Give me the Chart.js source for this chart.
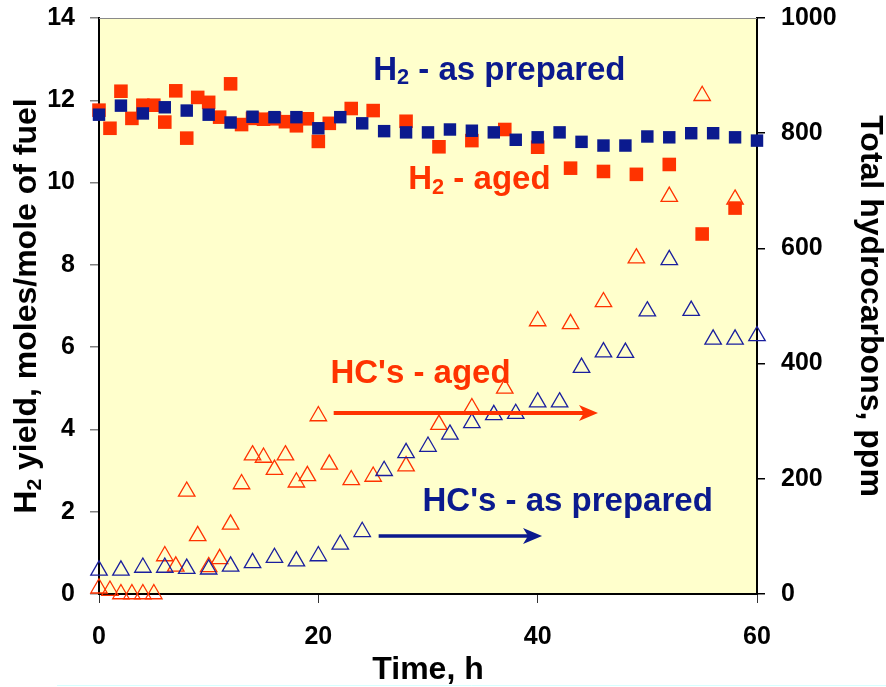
<!DOCTYPE html>
<html>
<head>
<meta charset="utf-8">
<title>H2 yield and total hydrocarbons vs time</title>
<script src="https://cdn.jsdelivr.net/npm/chart.js@4.4.1/dist/chart.umd.min.js"></script>
<style>
  html, body { margin: 0; padding: 0; background: #fff; }
  #wrap { width: 886px; height: 687px; }
</style>
</head>
<body>
<div id="wrap"><canvas id="chart" width="886" height="687"></canvas></div>
<script>
// Time points, h
const preparedTimes = [0, 2, 4, 6, 8, 10, 12, 14, 16, 18, 20, 22, 24, 26, 28, 30,
    32, 34, 36, 38, 40, 42, 44, 46, 48, 50, 52, 54, 56, 58, 60];
const agedTimes = [0, 1, 2, 3, 4, 5, 6, 7, 8, 9, 10, 11, 12, 13, 14, 15, 16, 17,
    18, 19, 20, 21, 23, 25, 28, 31, 34, 37, 40, 43, 46, 49, 52, 55, 58];

// H2 yield, moles/mole of fuel (left axis)
const h2Prepared = [11.65, 11.87, 11.68, 11.83, 11.75, 11.65, 11.46, 11.6, 11.59, 11.59,
    11.32, 11.59, 11.44, 11.25, 11.22, 11.22, 11.29, 11.26, 11.22, 11.04, 11.1, 11.22,
    10.99, 10.9, 10.9, 11.12, 11.1, 11.2, 11.2, 11.1, 11.02];
const h2Aged = [11.76, 11.32, 12.22, 11.56, 11.88, 11.88, 11.47, 12.23, 11.08, 12.07,
    11.95, 11.59, 12.4, 11.41, 11.56, 11.54, 11.55, 11.48, 11.38, 11.55, 11.0, 11.44,
    11.8, 11.75, 11.49, 10.87, 11.02, 11.29, 10.86, 10.35, 10.27, 10.2, 10.44, 8.75, 9.38];

// Total hydrocarbons, ppm (right axis)
const hcPrepared = [41, 41, 46, 46, 44, 43, 48, 54, 63, 57, 66, 86, 108, 214, 245, 256,
    277, 297, 311, 313, 333, 333, 393, 420, 419, 491, 580, 492, 442, 442, 448];
const hcAged = [10, 6, 0, 0, 0, 0, 66, 48, 178, 101, 47, 61, 121, 191, 241, 237, 216,
    241, 194, 205, 309, 225, 198, 204, 222, 294, 323, 357, 474, 469, 507, 583, 690, 865, 685];

// Axis ranges and tick steps
const timeRange = [0, 60, 20];
const yieldRange = [0, 14, 2];
const ppmRange = [0, 1000, 200];

const NAVY = '#0b1a8e';
const RED = '#ff3300';
const FONT = "'Liberation Sans', Arial, sans-serif";

function points(xs, ys) {
    return xs.map((x, i) => ({ x: x, y: ys[i] }));
}

// text with an optional subscript part, drawn at cap-centre y
function drawParts(ctx, parts, x, y, size, color, align) {
    ctx.save();
    ctx.fillStyle = color;
    ctx.textBaseline = 'alphabetic';
    ctx.textAlign = 'left';
    const subSize = size * 0.66;
    let total = 0;
    parts.forEach(p => {
        ctx.font = 'bold ' + (p.sub ? subSize : size) + 'px ' + FONT;
        total += ctx.measureText(p.text).width;
    });
    let cx = align === 'center' ? x - total / 2 : x;
    const base = y + size * 0.358;
    parts.forEach(p => {
        ctx.font = 'bold ' + (p.sub ? subSize : size) + 'px ' + FONT;
        ctx.fillText(p.text, cx, p.sub ? base + size * 0.13 : base);
        cx += ctx.measureText(p.text).width;
    });
    ctx.restore();
}

function drawArrow(ctx, x1, x2, y, color, width) {
    ctx.save();
    ctx.strokeStyle = color;
    ctx.fillStyle = color;
    ctx.lineWidth = width;
    ctx.beginPath();
    ctx.moveTo(x1, y);
    ctx.lineTo(x2 - 8, y);
    ctx.stroke();
    ctx.beginPath();
    ctx.moveTo(x2, y);
    ctx.lineTo(x2 - 19, y - 8);
    ctx.lineTo(x2 - 14, y);
    ctx.lineTo(x2 - 19, y + 8);
    ctx.closePath();
    ctx.fill();
    ctx.restore();
}

// labels and arrows, placed in data units (time, left-axis yield)
const notes = [
    { parts: [{ text: 'H' }, { text: '2', sub: true }, { text: ' - as prepared' }], t: 25.0, v: 12.78, color: NAVY },
    { parts: [{ text: 'H' }, { text: '2', sub: true }, { text: ' - aged' }], t: 28.2, v: 10.12, color: RED },
    { parts: [{ text: "HC's - aged" }], t: 21.1, v: 5.41, color: RED },
    { parts: [{ text: "HC's - as prepared" }], t: 29.5, v: 2.31, color: NAVY }
];
const arrows = [
    { t1: 21.4, t2: 45.5, v: 4.40, color: RED, width: 4 },
    { t1: 25.5, t2: 40.4, v: 1.41, color: NAVY, width: 3.5 }
];

const plotDecor = {
    id: 'plotDecor',
    beforeDraw(chart) {
        const { ctx, chartArea: a } = chart;
        ctx.save();
        ctx.fillStyle = '#ffffcc';
        ctx.fillRect(a.left, a.top, a.right - a.left, a.bottom - a.top);
        ctx.restore();
    },
    afterDatasetsDraw(chart) {
        const { ctx, chartArea: a, scales } = chart;
        ctx.save();
        ctx.strokeStyle = '#8a8a8a';
        ctx.lineWidth = 1;
        ctx.beginPath();
        ctx.moveTo(a.left, a.top + 0.5);
        ctx.lineTo(a.right, a.top + 0.5);
        ctx.stroke();
        ctx.restore();

        notes.forEach(n => {
            drawParts(ctx, n.parts, scales.x.getPixelForValue(n.t), scales.y.getPixelForValue(n.v), 33, n.color, 'left');
        });
        arrows.forEach(r => {
            drawArrow(ctx, scales.x.getPixelForValue(r.t1), scales.x.getPixelForValue(r.t2),
                scales.y.getPixelForValue(r.v), r.color, r.width);
        });
    },
    afterDraw(chart) {
        const { ctx, chartArea: a } = chart;
        // left axis title with subscript
        ctx.save();
        ctx.translate(25, (a.top + a.bottom) / 2);
        ctx.rotate(-Math.PI / 2);
        drawParts(ctx, [{ text: 'H' }, { text: '2', sub: true }, { text: ' yield, moles/mole of fuel' }], 0, 0, 32, '#000', 'center');
        ctx.restore();
        // faint frame line at the bottom
        ctx.save();
        ctx.strokeStyle = '#d6ffff';
        ctx.lineWidth = 1;
        ctx.beginPath();
        ctx.moveTo(57, 685.5);
        ctx.lineTo(886, 685.5);
        ctx.stroke();
        ctx.restore();
    }
};

const tickFont = { family: FONT, size: 25, weight: 'bold' };
const plainLabel = v => String(v);

function fixWidth(w) {
    return scale => {
        scale.width = w;
        scale.paddingTop = 0;
        scale.paddingBottom = 0;
    };
}

new Chart(document.getElementById('chart'), {
    type: 'scatter',
    data: {
        datasets: [{
            label: 'H2 - as prepared',
            data: points(preparedTimes, h2Prepared),
            yAxisID: 'y',
            pointStyle: 'rect',
            pointRadius: 8.8,
            pointBorderWidth: 0,
            backgroundColor: NAVY,
            borderColor: NAVY,
            clip: false
        }, {
            label: 'H2 - aged',
            data: points(agedTimes, h2Aged),
            yAxisID: 'y',
            pointStyle: 'rect',
            pointRadius: 9.6,
            pointBorderWidth: 0,
            backgroundColor: RED,
            borderColor: RED,
            clip: false
        }, {
            label: "HC's - as prepared",
            data: points(preparedTimes, hcPrepared),
            yAxisID: 'y1',
            pointStyle: 'triangle',
            pointRadius: 9.5,
            pointBorderWidth: 1.3,
            backgroundColor: 'rgba(0,0,0,0)',
            borderColor: '#1a1f9e',
            clip: false
        }, {
            label: "HC's - aged",
            data: points(agedTimes, hcAged),
            yAxisID: 'y1',
            pointStyle: 'triangle',
            pointRadius: 9.5,
            pointBorderWidth: 1.3,
            backgroundColor: 'rgba(0,0,0,0)',
            borderColor: RED,
            clip: false
        }]
    },
    options: {
        responsive: false,
        animation: false,
        devicePixelRatio: 1,
        layout: { padding: { top: 18, left: 0, right: 0, bottom: 0 } },
        plugins: {
            legend: { display: false },
            tooltip: { enabled: false }
        },
        scales: {
            x: {
                type: 'linear',
                position: 'bottom',
                min: timeRange[0],
                max: timeRange[1],
                ticks: { stepSize: timeRange[2], font: tickFont, color: '#000', padding: 19, maxRotation: 0, callback: plainLabel },
                grid: { drawOnChartArea: false, tickLength: 9, color: '#333', lineWidth: 1 },
                border: { color: '#000', width: 2 },
                title: {
                    display: true,
                    text: 'Time, h',
                    color: '#000',
                    font: { family: FONT, size: 32, weight: 'bold', lineHeight: 1 },
                    padding: { top: 0, bottom: 1 }
                },
                afterFit(scale) {
                    scale.height = 93;
                    scale.paddingLeft = 0;
                    scale.paddingRight = 0;
                }
            },
            y: {
                type: 'linear',
                position: 'left',
                min: yieldRange[0],
                max: yieldRange[1],
                ticks: { stepSize: yieldRange[2], font: tickFont, color: '#000', padding: 15, callback: plainLabel },
                grid: { drawOnChartArea: false, tickLength: 9, color: '#808080', lineWidth: 1.5 },
                border: { color: '#000', width: 2 },
                afterFit: fixWidth(99)
            },
            y1: {
                type: 'linear',
                position: 'right',
                min: ppmRange[0],
                max: ppmRange[1],
                ticks: { stepSize: ppmRange[2], font: tickFont, color: '#000', padding: 16, callback: plainLabel },
                grid: { drawOnChartArea: false, tickLength: 8, color: '#000', lineWidth: 1.5 },
                border: { color: '#000', width: 2 },
                title: {
                    display: true,
                    text: 'Total hydrocarbons, ppm',
                    color: '#000',
                    font: { family: FONT, size: 32, weight: 'bold', lineHeight: 1 },
                    padding: { top: 0, bottom: 0 }
                },
                afterFit: fixWidth(129)
            }
        }
    },
    plugins: [plotDecor]
});
</script>
</body>
</html>
